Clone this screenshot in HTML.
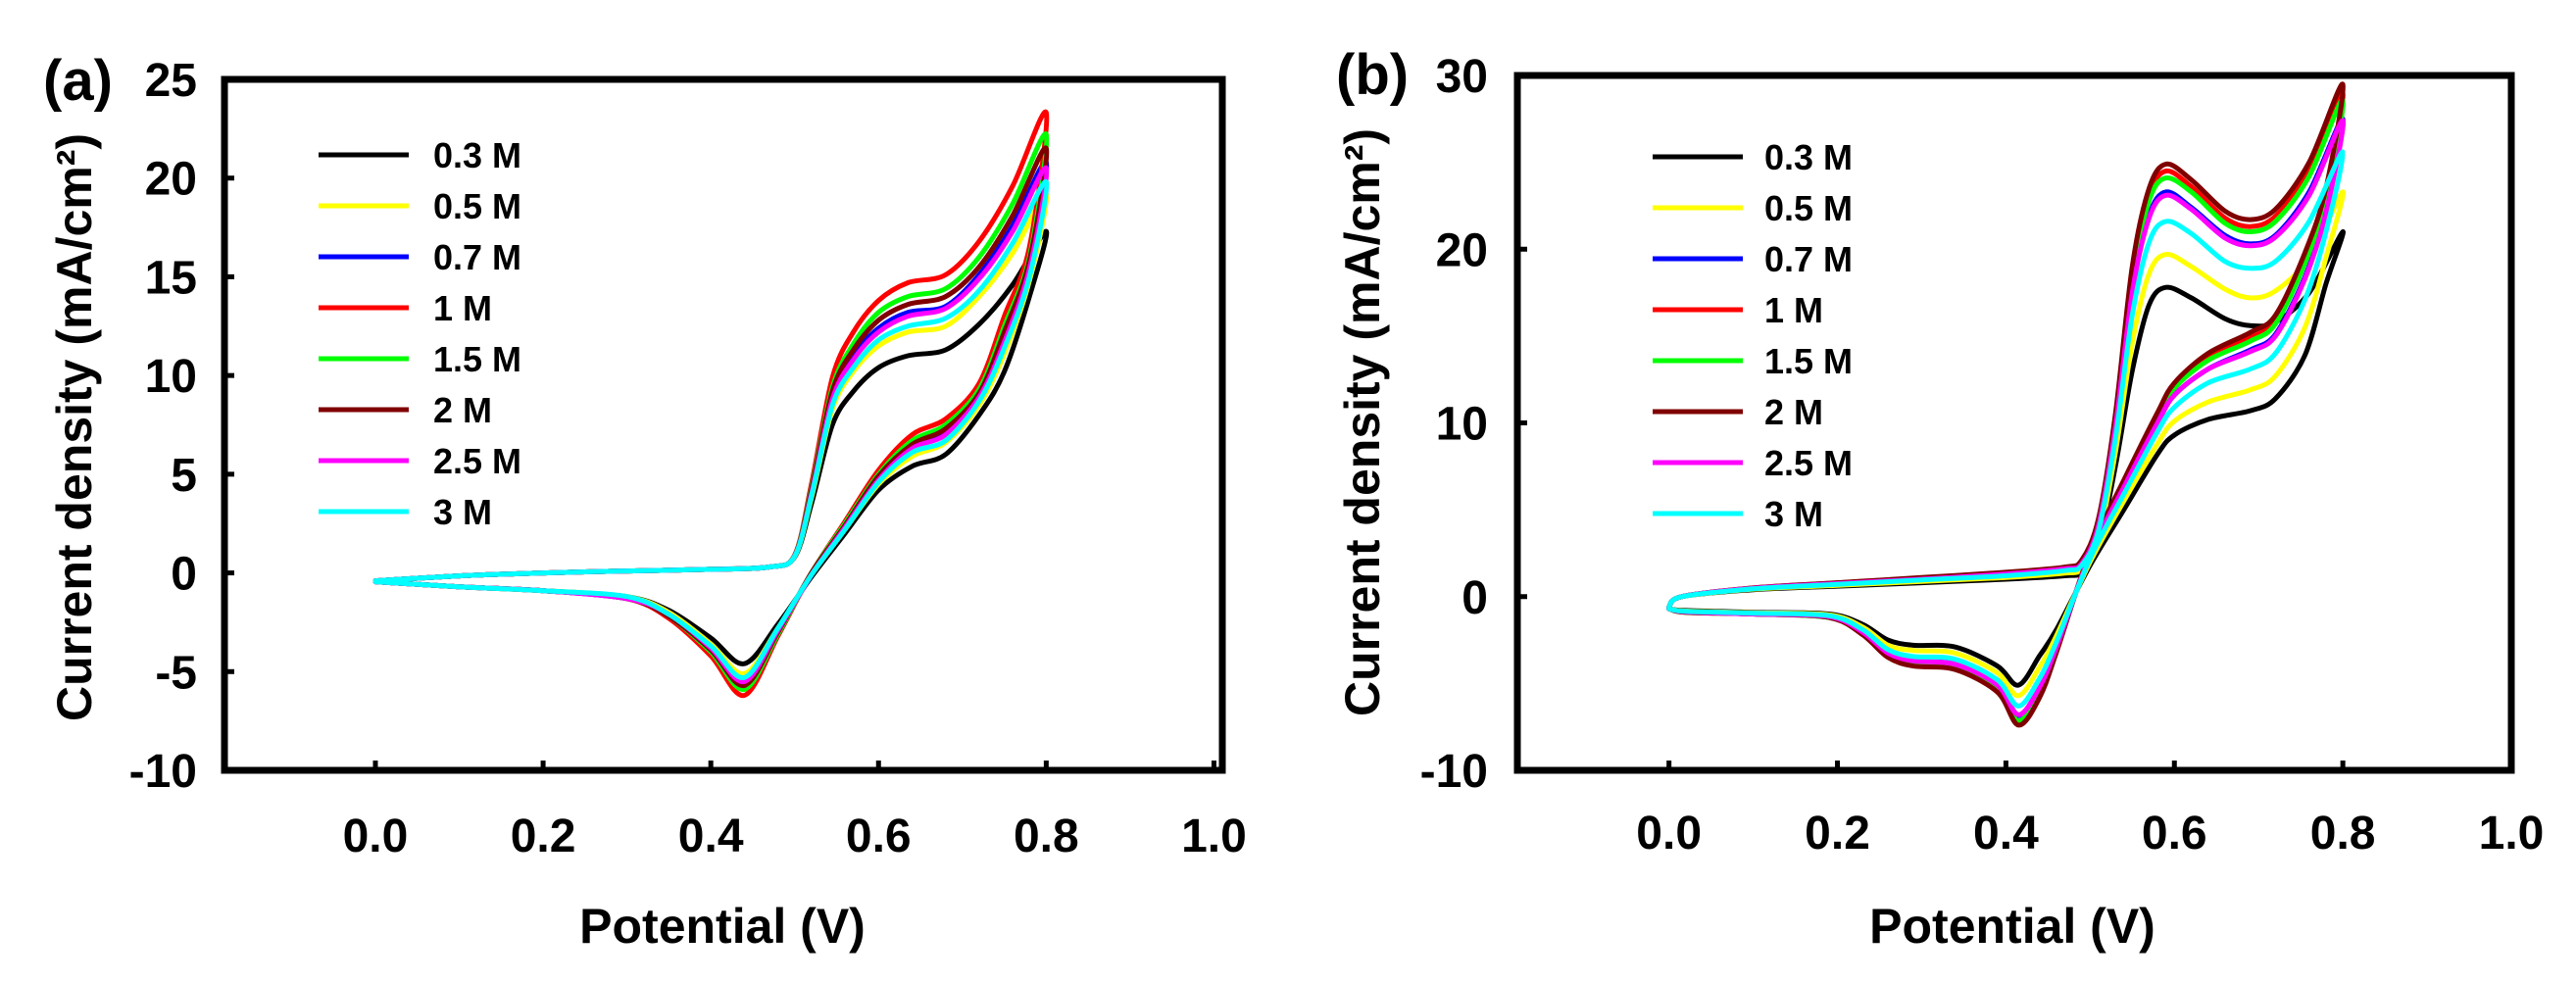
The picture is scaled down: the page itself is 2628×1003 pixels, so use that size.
<!DOCTYPE html>
<html><head><meta charset="utf-8"><style>
html,body{margin:0;padding:0;background:#fff;}
svg{display:block;}
text{font-family:"Liberation Sans",sans-serif;font-weight:bold;fill:#000;}
</style></head><body>
<svg id="fig" width="2628" height="1003" viewBox="0 0 2628 1003" xmlns="http://www.w3.org/2000/svg"></svg>
<script>
// ---------- shared ----------
const seriesLabels = ["0.3 M","0.5 M","0.7 M","1 M","1.5 M","2 M","2.5 M","3 M"];
const seriesColors = ["#000000","#ffff00","#0000ff","#ff0000","#00ff00","#800000","#ff00ff","#00ffff"];
const xTickValues = [0.0,0.2,0.4,0.6,0.8,1.0];
const xTickLabels = ["0.0","0.2","0.4","0.6","0.8","1.0"];

// ---------- panel (a) data ----------
const aYTicks = [25,20,15,10,5,0,-5,-10];
const aYTickLabels = ["25","20","15","10","5","0","-5","-10"];
const aFwdE = [0,0.1,0.2,0.3,0.4,0.47,0.5,0.52,0.545,0.57,0.6,0.635,0.68,0.72,0.76,0.8];
const aFwd03 = [-0.4,-0.15,0,0.1,0.18,0.3,0.8,3.5,7.5,9.2,10.4,11.0,11.3,12.6,14.6,17.3];
const aFwd05 = [-0.4,-0.15,0,0.1,0.18,0.3,0.83,3.8,8.3,10.2,11.5,12.2,12.5,14.0,16.2,19.2];
const aFwd07 = [-0.4,-0.15,0,0.1,0.18,0.3,0.86,4.1,8.9,11.0,12.4,13.2,13.5,15.1,17.6,20.8];
const aFwd1  = [-0.4,-0.15,0,0.1,0.18,0.3,0.9,4.5,9.9,12.2,13.8,14.7,15.1,16.8,19.6,23.3];
const aFwd15 = [-0.4,-0.15,0,0.1,0.18,0.3,0.88,4.3,9.4,11.6,13.2,14.0,14.4,16.0,18.7,22.2];
const aFwd2  = [-0.4,-0.15,0,0.1,0.18,0.3,0.87,4.2,9.2,11.3,12.8,13.6,14.0,15.5,18.1,21.5];
const aFwd25 = [-0.4,-0.15,0,0.1,0.18,0.3,0.85,4.0,8.8,10.8,12.2,13.0,13.4,14.9,17.3,20.5];
const aFwd3  = [-0.4,-0.15,0,0.1,0.18,0.3,0.84,3.9,8.5,10.4,11.8,12.5,12.9,14.3,16.7,19.8];
const aRevE = [0.8,0.78,0.75,0.72,0.68,0.64,0.6,0.56,0.52,0.48,0.44,0.4,0.35,0.3,0.2,0.1,0];
const aRev03 = [17.3,14.0,10.2,8.0,6.0,5.4,4.2,2.0,-0.2,-2.6,-4.6,-3.3,-1.9,-1.2,-0.9,-0.7,-0.45];
const aRev05 = [19.2,14.8,11.1,8.5,6.6,5.9,4.5,2.2,-0.1,-2.8,-5.1,-3.6,-2.0,-1.2,-0.9,-0.7,-0.45];
const aRev07 = [20.8,15.5,11.9,8.9,7.1,6.3,4.8,2.4,-0.1,-2.9,-5.5,-3.8,-2.1,-1.3,-0.9,-0.7,-0.45];
const aRev1  = [23.3,16.5,13.0,9.6,7.8,7.0,5.2,2.6,0,-3.2,-6.2,-4.2,-2.3,-1.3,-0.9,-0.7,-0.45];
const aRev15 = [22.2,16.0,12.5,9.3,7.5,6.7,5.0,2.5,0,-3.1,-5.9,-4.0,-2.2,-1.3,-0.9,-0.7,-0.45];
const aRev2  = [21.5,15.8,12.2,9.1,7.3,6.5,4.9,2.4,0,-3.0,-5.7,-3.9,-2.2,-1.3,-0.9,-0.7,-0.45];
const aRev25 = [20.5,15.4,11.7,8.9,7.0,6.3,4.7,2.3,-0.1,-2.9,-5.5,-3.8,-2.1,-1.3,-0.9,-0.7,-0.45];
const aRev3  = [19.8,15.0,11.4,8.7,6.7,6.1,4.6,2.2,-0.1,-2.8,-5.3,-3.7,-2.1,-1.2,-0.9,-0.7,-0.45];

// ---------- panel (b) data ----------
const bYTicks = [30,20,10,0,-10];
const bYTickLabels = ["30","20","10","0","-10"];
const bFwdE = [0,0.015,0.1,0.2,0.3,0.4,0.47,0.49,0.51,0.53,0.55,0.57,0.59,0.62,0.66,0.69,0.72,0.76,0.8];
const bFwd03 = [-0.6,0,0.4,0.6,0.8,1.0,1.2,1.4,3.0,7.5,13.0,16.8,17.8,17.2,16.0,15.6,15.8,17.5,21.0];
const bFwd05 = [-0.6,0,0.43,0.65,0.88,1.1,1.35,1.6,3.4,8.3,14.6,18.6,19.7,19.0,17.7,17.2,17.6,19.5,23.3];
const bFwd07 = [-0.6,0,0.48,0.75,1.0,1.3,1.6,1.9,4.1,9.8,17.6,21.95,23.3,22.4,20.8,20.3,20.8,23.3,27.5];
const bFwd1  = [-0.6,0,0.5,0.79,1.08,1.38,1.67,2.06,4.4,10.3,18.6,23.1,24.5,23.6,21.8,21.3,21.9,24.5,29.0];
const bFwd15 = [-0.6,0,0.49,0.78,1.07,1.36,1.65,2.0,4.3,10.2,18.3,22.8,24.1,23.3,21.5,21.0,21.6,24.2,28.6];
const bFwd2  = [-0.6,0,0.5,0.8,1.1,1.4,1.7,2.1,4.5,10.5,19.0,23.5,24.9,24.0,22.2,21.7,22.3,25.0,29.5];
const bFwd25 = [-0.6,0,0.48,0.75,1.0,1.3,1.6,1.9,4.1,9.75,17.5,21.8,23.1,22.3,20.65,20.2,20.7,23.1,27.4];
const bFwd3  = [-0.6,0,0.45,0.7,0.96,1.2,1.5,1.8,3.8,9.1,16.2,20.4,21.6,20.9,19.3,18.9,19.3,21.6,25.6];
const bRevE = [0.8,0.78,0.755,0.72,0.69,0.64,0.6,0.58,0.54,0.5,0.46,0.44,0.415,0.39,0.34,0.29,0.26,0.23,0.19,0.1,0.02,0];
const bRev03 = [21.0,18.0,13.9,11.4,10.7,10.2,9.3,8.2,5.0,1.8,-1.9,-3.4,-5.1,-4.0,-2.9,-2.8,-2.5,-1.6,-1.0,-0.9,-0.8,-0.7];
const bRev05 = [23.3,19.5,15.5,12.7,11.9,11.2,10.1,8.8,5.5,2.0,-2.25,-4.05,-5.7,-4.4,-3.25,-3.1,-2.8,-1.75,-1.05,-0.93,-0.83,-0.7];
const bRev07 = [27.5,22.2,18.4,15.1,14.2,13.1,11.6,10.0,6.3,2.4,-2.9,-5.25,-6.85,-5.15,-3.9,-3.7,-3.25,-2.05,-1.15,-1.0,-0.88,-0.7];
const bRev1  = [29.0,23.2,19.5,15.9,14.9,13.8,12.1,10.5,6.6,2.55,-3.1,-5.65,-7.25,-5.4,-4.1,-3.9,-3.45,-2.15,-1.2,-1.0,-0.9,-0.7];
const bRev15 = [28.6,22.9,19.2,15.7,14.7,13.6,12.0,10.3,6.5,2.5,-3.05,-5.5,-7.15,-5.35,-4.05,-3.85,-3.4,-2.1,-1.2,-1.0,-0.9,-0.7];
const bRev2  = [29.5,23.5,19.8,16.2,15.2,14.0,12.3,10.6,6.7,2.6,-3.2,-5.8,-7.4,-5.5,-4.2,-4.0,-3.5,-2.2,-1.2,-1.0,-0.9,-0.7];
const bRev25 = [27.4,22.1,18.3,15.0,14.1,13.1,11.6,10.0,6.3,2.4,-2.9,-5.2,-6.8,-5.1,-3.9,-3.7,-3.25,-2.05,-1.15,-1.0,-0.88,-0.7];
const bRev3  = [25.6,21.0,17.1,14.0,13.1,12.3,10.9,9.5,5.9,2.2,-2.6,-4.7,-6.3,-4.8,-3.6,-3.45,-3.05,-1.9,-1.1,-0.95,-0.85,-0.7];

const NS = "http://www.w3.org/2000/svg";
const svg = document.getElementById("fig");
function mk(tag, attrs, parent){
  const e = document.createElementNS(NS, tag);
  for (const k in attrs) e.setAttribute(k, attrs[k]);
  (parent||svg).appendChild(e);
  return e;
}
function smoothPath(pts){
  let d = "M" + pts[0][0].toFixed(1) + "," + pts[0][1].toFixed(1);
  for (let i=0;i<pts.length-1;i++){
    const p0 = pts[Math.max(0,i-1)], p1 = pts[i], p2 = pts[i+1], p3 = pts[Math.min(pts.length-1,i+2)];
    const t = 0.16;
    const c1 = [p1[0]+(p2[0]-p0[0])*t, p1[1]+(p2[1]-p0[1])*t];
    const c2 = [p2[0]-(p3[0]-p1[0])*t, p2[1]-(p3[1]-p1[1])*t];
    d += "C"+c1[0].toFixed(1)+","+c1[1].toFixed(1)+" "+c2[0].toFixed(1)+","+c2[1].toFixed(1)+" "+p2[0].toFixed(1)+","+p2[1].toFixed(1);
  }
  return d;
}

function panel(cfg){
  const g = mk("g", {});
  
  
  const xs = v => cfg.x0 + (v - cfg.xmin)/(cfg.xmax - cfg.xmin)*(cfg.x1 - cfg.x0);
  const ys = v => cfg.y1 - (v - cfg.ymin)/(cfg.ymax - cfg.ymin)*(cfg.y1 - cfg.y0);
  // curves
  const cg = mk("g", {fill:"none","stroke-width":"5","stroke-linejoin":"round","stroke-linecap":"round"}, g);
  
  
  for (let s=0;s<seriesLabels.length;s++){
    const pts = [];
    for (let i=0;i<cfg.fwdE.length;i++) pts.push([xs(cfg.fwdE[i]), ys(cfg.fwd[s][i])]);
    for (let i=1;i<cfg.revE.length;i++) pts.push([xs(cfg.revE[i]), ys(cfg.rev[s][i])]);
    const p = mk("path", {d:smoothPath(pts), stroke:seriesColors[s]}, cg);
    
    
  }
  // frame
  const fr = mk("rect", {x:cfg.x0, y:cfg.y0, width:cfg.x1-cfg.x0, height:cfg.y1-cfg.y0, fill:"none", stroke:"#000","stroke-width":"7"}, g);
  
  
  // y ticks
  for (let i=0;i<cfg.yTicks.length;i++){
    const y = ys(cfg.yTicks[i]);
    const tk = mk("line", {x1:cfg.x0, x2:cfg.x0+10, y1:y, y2:y, stroke:"#000","stroke-width":"5"}, g);
    
    
    const t = mk("text", {x:cfg.yLabelRight, y:y+17, "text-anchor":"end","font-size":"48"}, g);
    t.textContent = cfg.yTickLabels[i];
    
    
  }
  // x ticks
  for (let i=0;i<xTickValues.length;i++){
    const x = xs(xTickValues[i]);
    const tk = mk("line", {x1:x, x2:x, y1:cfg.y1, y2:cfg.y1-10, stroke:"#000","stroke-width":"5"}, g);
    
    
    const t = mk("text", {x:x, y:cfg.xLabelY, "text-anchor":"middle","font-size":"48"}, g);
    t.textContent = xTickLabels[i];
    
    
  }
  // axis titles
  const xt = mk("text", {x:cfg.xTitleX, y:cfg.xTitleY, "text-anchor":"middle","font-size":"50"}, g);
  xt.textContent = "Potential (V)";
  
  
  const yt = mk("text", {x:0, y:0, "text-anchor":"middle","font-size":"50", transform:"translate("+(cfg.yTitleX+18)+","+cfg.yTitleY+") rotate(-90)"}, g);
  yt.textContent = "Current density (mA/cm²)";
  
  
  const pl = mk("text", {x:cfg.tagX, y:cfg.tagY, "font-size":"58"}, g);
  pl.textContent = cfg.tag;
  
  
  // legend
  const lg = mk("g", {}, g);
  
  
  for (let s=0;s<seriesLabels.length;s++){
    const y = cfg.legY + cfg.legDy*s;
    const eg = mk("g", {}, lg);
    
    
    mk("line", {x1:cfg.legX0, x2:cfg.legX1, y1:y, y2:y, stroke:seriesColors[s], "stroke-width":"5"}, eg);
    const t = mk("text", {x:cfg.legTX, y:y+13, "font-size":"36"}, eg);
    t.textContent = seriesLabels[s];
  }
}

panel({name:"panel-a", tag:"(a)", x0:229, x1:1247, y0:81, y1:786, xmin:-0.18, xmax:1.01, ymin:-10, ymax:25,
  yTicks:aYTicks, yTickLabels:aYTickLabels, fwdE:aFwdE, revE:aRevE,
  fwd:[aFwd03,aFwd05,aFwd07,aFwd1,aFwd15,aFwd2,aFwd25,aFwd3],
  rev:[aRev03,aRev05,aRev07,aRev1,aRev15,aRev2,aRev25,aRev3],
  yLabelRight:201, xLabelY:869, xTitleX:737, xTitleY:962, yTitleX:75, yTitleY:436, tagX:44, tagY:102,
  legX0:325, legX1:417, legTX:442, legY:158, legDy:52});

panel({name:"panel-b", tag:"(b)", x0:1548, x1:2562, y0:77, y1:786, xmin:-0.18, xmax:1.0, ymin:-10, ymax:30,
  yTicks:bYTicks, yTickLabels:bYTickLabels, fwdE:bFwdE, revE:bRevE,
  fwd:[bFwd03,bFwd05,bFwd07,bFwd1,bFwd15,bFwd2,bFwd25,bFwd3],
  rev:[bRev03,bRev05,bRev07,bRev1,bRev15,bRev2,bRev25,bRev3],
  yLabelRight:1518, xLabelY:866, xTitleX:2053, xTitleY:962, yTitleX:1389, yTitleY:431, tagX:1363, tagY:96,
  legX0:1686, legX1:1778, legTX:1800, legY:160, legDy:52});
</script>
</body></html>
